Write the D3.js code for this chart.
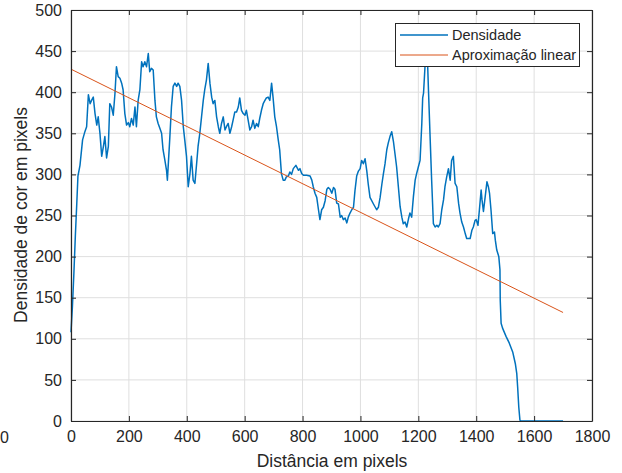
<!DOCTYPE html>
<html><head><meta charset="utf-8">
<script src="https://cdn.jsdelivr.net/npm/d3@7"></script>
<style>
html,body{margin:0;padding:0;background:#fff;}
text{font-family:"Liberation Sans",Arial,sans-serif;fill:#262626;}
</style></head>
<body><svg id="c" width="622" height="473"></svg>
<script>
const distance = [0,5,10,15,20,24,31,40,48,54,60,66,71,77,83,89,94,100,106,112,117,123,129,134,140,146,152,157,163,169,175,180,186,192,198,203,209,215,221,226,232,238,244,249,255,261,267,272,278,284,290,295,301,307,313,318,324,330,333,341,347,353,359,365,370,376,382,388,393,399,405,411,416,422,428,434,439,445,451,457,462,468,474,480,486,491,497,503,509,514,520,526,532,537,543,549,555,560,566,572,578,583,589,595,601,606,612,618,624,629,635,641,647,652,658,664,670,675,681,687,693,698,704,710,716,721,727,733,739,744,751,756,762,768,777,786,791,797,803,814,826,832,837,843,849,855,860,866,872,878,884,889,895,901,907,912,918,924,930,935,941,947,953,958,964,970,976,981,987,993,999,1004,1010,1016,1022,1027,1033,1045,1056,1062,1068,1074,1079,1085,1091,1096,1102,1108,1114,1119,1125,1131,1137,1143,1148,1154,1160,1166,1171,1177,1183,1189,1194,1200,1206,1212,1215,1218,1223,1226,1229,1232,1235,1241,1246,1252,1258,1264,1269,1275,1281,1287,1292,1298,1304,1310,1315,1321,1327,1333,1339,1344,1350,1356,1362,1367,1379,1385,1390,1396,1400,1406,1411,1417,1420,1425,1431,1437,1442,1446,1451,1457,1463,1466,1471,1478,1482,1483,1486,1491,1503,1514,1526,1535,1540,1543,1547,1551,1555,1700];
const density = [108,140,180,225,265,298,311,342,352,358,397,386,390,394,374,360,370,350,322,334,346,320,334,386,382,372,399,431,419,417,411,403,374,360,363,358,368,360,382,358,390,403,437,431,437,431,447,425,429,427,390,370,362,356,350,330,318,305,293,342,382,407,411,407,411,407,390,358,342,322,285,301,322,293,289,313,334,350,370,390,403,415,435,411,394,386,390,370,358,350,362,370,354,358,362,350,358,366,376,376,382,393,378,374,372,378,366,354,358,366,356,362,358,368,378,386,390,393,394,390,411,394,370,358,342,330,301,293,293,297,298,303,300,307,311,305,307,301,299,299,298,293,285,277,272,257,245,257,260,268,282,284,282,277,284,282,265,264,248,250,245,247,241,248,253,257,260,280,298,304,307,317,313,319,304,288,272,264,257,260,272,288,300,313,330,338,346,352,340,326,309,285,261,248,240,242,236,246,253,248,273,293,301,309,317,362,393,399,431,455,440,435,403,342,293,240,236,238,236,240,257,269,285,297,307,293,317,322,289,285,265,253,242,236,228,222,222,232,236,244,245,238,257,281,269,255,273,291,285,277,257,228,230,220,208,200,184,147,119,113,103,95,84,70,58,42,17,1,0,0];
const fitX = [0,1700];
const fitY = [428,132];
const xTicks = [0,200,400,600,800,1000,1200,1400,1600,1800];
const yTicks = [0,50,100,150,200,250,300,350,400,450,500];
const seriesNames = ["Densidade","Aproximação linear"];
const xLabel = "Distância em pixels";
const yLabel = "Densidade de cor em pixels";

const W=622,H=473, L=71, R=592, T=10, B=421;
const svg = d3.select("#c");
const x = d3.scaleLinear().domain([0,1800]).range([L,R]);
const y = d3.scaleLinear().domain([0,500]).range([B,T]);
const axC = "#262626", gridC = "#dfdfdf";

// grid
const g = svg.append("g");
g.selectAll(".vg").data(xTicks).join("line")
  .attr("x1",d=>x(d)).attr("x2",d=>x(d)).attr("y1",T).attr("y2",B)
  .attr("stroke",gridC).attr("stroke-width",1);
g.selectAll(".hg").data(yTicks).join("line")
  .attr("y1",d=>y(d)).attr("y2",d=>y(d)).attr("x1",L).attr("x2",R)
  .attr("stroke",gridC).attr("stroke-width",1);

// data lines
const pts = distance.map((d,i)=>[d,density[i]]);
const line = d3.line().x(d=>x(d[0])).y(d=>y(d[1]));
svg.append("path").datum(pts).attr("d",line)
  .attr("fill","none").attr("stroke","#0072BD").attr("stroke-width",1.5).attr("stroke-linejoin","round");
svg.append("path").datum(fitX.map((d,i)=>[d,fitY[i]])).attr("d",line)
  .attr("fill","none").attr("stroke","#D95319").attr("stroke-width",1);

// axes
function styleAxis(sel){
  sel.select(".domain").attr("stroke",axC).attr("stroke-width",1.2);
  sel.selectAll(".tick line").attr("stroke",axC).attr("stroke-width",1);
  sel.selectAll(".tick text").attr("fill",axC).style("font-size","16px")
     .style("font-family","'Liberation Sans',Arial,sans-serif");
}
const ax = svg.append("g").attr("transform",`translate(0,${B})`)
  .call(d3.axisBottom(x).tickValues(xTicks).tickSize(-5).tickSizeOuter(0).tickPadding(10).tickFormat(d3.format("d")));
styleAxis(ax); ax.selectAll(".tick text").attr("dy","0.71em");
const ay = svg.append("g").attr("transform",`translate(${L},0)`)
  .call(d3.axisLeft(y).tickValues(yTicks).tickSize(-5).tickSizeOuter(0).tickPadding(9).tickFormat(d3.format("d")));
styleAxis(ay);
const at = svg.append("g").attr("transform",`translate(0,${T})`)
  .call(d3.axisTop(x).tickValues(xTicks).tickSize(-5).tickSizeOuter(0).tickFormat(""));
styleAxis(at);
const ar = svg.append("g").attr("transform",`translate(${R},0)`)
  .call(d3.axisRight(y).tickValues(yTicks).tickSize(-5).tickSizeOuter(0).tickFormat(""));
styleAxis(ar);

// axis labels
svg.append("text").attr("x",332).attr("y",467).attr("text-anchor","middle")
  .style("font-size","17.5px").text(xLabel);
svg.append("text").attr("transform","translate(27,215) rotate(-90)").attr("text-anchor","middle")
  .style("font-size","17.5px").text(yLabel);
// stray label at left edge
svg.append("text").attr("x",0).attr("y",443).attr("text-anchor","start")
  .style("font-size","16px").text("0");

// legend
const lg = svg.append("g");
lg.append("rect").attr("x",395.5).attr("y",23.5).attr("width",184).attr("height",43)
  .attr("fill","#fff").attr("stroke",axC).attr("stroke-width",1);
const lc = ["#0072BD","#D95319"];
seriesNames.forEach((n,i)=>{
  const yy = 35 + i*20;
  lg.append("line").attr("x1",400).attr("x2",448).attr("y1",yy).attr("y2",yy)
    .attr("stroke",lc[i]).attr("stroke-width",i===0?1.5:1);
  lg.append("text").attr("x",452).attr("y",yy+5).style("font-size","14.5px").text(n);
});
</script></body></html>
